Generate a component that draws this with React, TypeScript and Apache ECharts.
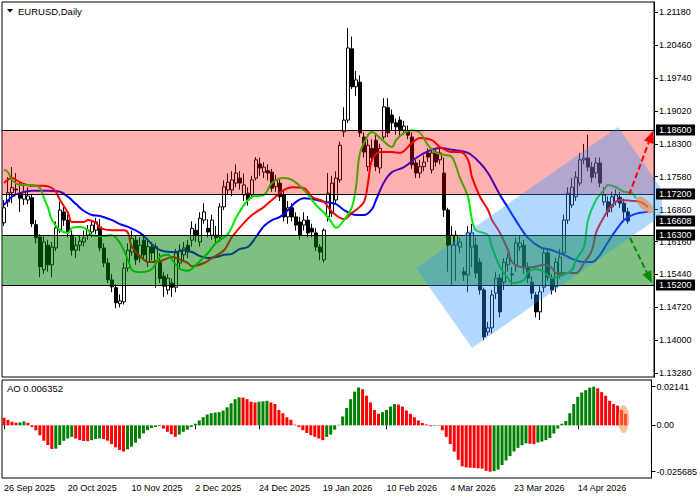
import React, { useEffect, useRef } from "react";
import * as echarts from "echarts";

// ---------- data ----------
const SLOTS = 163; // bar slots across the chart (157 bars + empty right margin)
const dateLabels = ["26 Sep 2025", "20 Oct 2025", "10 Nov 2025", "2 Dec 2025", "24 Dec 2025", "19 Jan 2026", "10 Feb 2026", "4 Mar 2026", "23 Mar 2026", "14 Apr 2026"];
const LABEL_EVERY = 16;
const priceTicks = [1.2118, 1.2046, 1.1974, 1.1902, 1.183, 1.1758, 1.1686, 1.1616, 1.1544, 1.1472, 1.14, 1.1328];
const aoTicks = [0.02141, 0, -0.025685];
const aoTickLabels = ["0.02141", "0.00", "-0.025685"];
const priceMin = 1.13194;
const priceMax = 1.21406;
const aoMin = -0.02918;
const aoMax = 0.02512;

// [open, close, low, high]
const candles = [
  [1.1657, 1.1690, 1.1650, 1.1707], [1.1703, 1.1723, 1.1692, 1.1757], [1.1723, 1.1734, 1.1700, 1.1779], [1.1731, 1.1729, 1.1718, 1.1766],
  [1.1722, 1.1711, 1.1681, 1.1744], [1.1709, 1.1725, 1.1696, 1.1740], [1.1707, 1.1716, 1.1698, 1.1735], [1.1712, 1.1655, 1.1648, 1.1720],
  [1.1653, 1.1624, 1.1612, 1.1663], [1.1626, 1.1561, 1.1538, 1.1632], [1.1554, 1.1615, 1.1545, 1.1628], [1.1608, 1.1565, 1.1550, 1.1620],
  [1.1565, 1.1604, 1.1538, 1.1615], [1.1602, 1.1646, 1.1595, 1.1660], [1.1641, 1.1685, 1.1635, 1.1703], [1.1681, 1.1663, 1.1650, 1.1695],
  [1.1663, 1.1637, 1.1625, 1.1675], [1.1630, 1.1597, 1.1585, 1.1640], [1.1597, 1.1608, 1.1580, 1.1625], [1.1608, 1.1617, 1.1595, 1.1630],
  [1.1615, 1.1624, 1.1605, 1.1640], [1.1630, 1.1641, 1.1620, 1.1652], [1.1637, 1.1652, 1.1625, 1.1660], [1.1641, 1.1659, 1.1632, 1.1668],
  [1.1648, 1.1602, 1.1595, 1.1665], [1.1602, 1.1569, 1.1560, 1.1612], [1.1569, 1.1532, 1.1525, 1.1580], [1.1532, 1.1517, 1.1505, 1.1545],
  [1.1515, 1.1482, 1.1470, 1.1522], [1.1480, 1.1486, 1.1472, 1.1500], [1.1484, 1.1558, 1.1478, 1.1570], [1.1558, 1.1597, 1.1550, 1.1612],
  [1.1593, 1.1623, 1.1585, 1.1640], [1.1619, 1.1576, 1.1565, 1.1630], [1.1580, 1.1608, 1.1570, 1.1625], [1.1619, 1.1587, 1.1575, 1.1632],
  [1.1572, 1.1605, 1.1560, 1.1618], [1.1604, 1.1591, 1.1575, 1.1615], [1.1574, 1.1605, 1.1515, 1.1612], [1.1570, 1.1535, 1.1525, 1.1590],
  [1.1540, 1.1518, 1.1495, 1.1550], [1.1510, 1.1536, 1.1500, 1.1545], [1.1525, 1.1516, 1.1495, 1.1535], [1.1516, 1.1591, 1.1505, 1.1600],
  [1.1569, 1.1597, 1.1560, 1.1610], [1.1587, 1.1602, 1.1575, 1.1615], [1.1608, 1.1593, 1.1580, 1.1620], [1.1619, 1.1645, 1.1605, 1.1660],
  [1.1641, 1.1630, 1.1615, 1.1655], [1.1615, 1.1667, 1.1605, 1.1680], [1.1663, 1.1681, 1.1655, 1.1700], [1.1645, 1.1637, 1.1625, 1.1665],
  [1.1630, 1.1663, 1.1620, 1.1675], [1.1630, 1.1624, 1.1610, 1.1650], [1.1626, 1.1692, 1.1615, 1.1700], [1.1692, 1.1736, 1.1685, 1.1750],
  [1.1729, 1.1746, 1.1720, 1.1765], [1.1729, 1.1751, 1.1715, 1.1770], [1.1744, 1.1766, 1.1735, 1.1785], [1.1755, 1.1744, 1.1730, 1.1770],
  [1.1718, 1.1740, 1.1705, 1.1765], [1.1722, 1.1707, 1.1695, 1.1735], [1.1718, 1.1751, 1.1710, 1.1760], [1.1755, 1.1795, 1.1750, 1.1801],
  [1.1786, 1.1777, 1.1760, 1.1800], [1.1768, 1.1779, 1.1755, 1.1790], [1.1771, 1.1766, 1.1750, 1.1785], [1.1768, 1.1733, 1.1725, 1.1775],
  [1.1736, 1.1751, 1.1725, 1.1762], [1.1744, 1.1714, 1.1705, 1.1755], [1.1718, 1.1670, 1.1660, 1.1730], [1.1670, 1.1690, 1.1655, 1.1705],
  [1.1690, 1.1670, 1.1660, 1.1700], [1.1670, 1.1652, 1.1640, 1.1680], [1.1659, 1.1630, 1.1620, 1.1670], [1.1652, 1.1663, 1.1640, 1.1680],
  [1.1663, 1.1635, 1.1625, 1.1672], [1.1645, 1.1637, 1.1625, 1.1655], [1.1635, 1.1604, 1.1595, 1.1645], [1.1604, 1.1593, 1.1575, 1.1610],
  [1.1576, 1.1641, 1.1570, 1.1645], [1.1670, 1.1722, 1.1660, 1.1766], [1.1678, 1.1744, 1.1670, 1.1760], [1.1707, 1.1755, 1.1700, 1.1770],
  [1.1751, 1.1827, 1.1745, 1.1835], [1.1856, 1.1882, 1.1845, 1.1910], [1.1882, 1.2040, 1.1876, 1.2084], [1.2038, 1.1955, 1.1950, 1.2065],
  [1.1955, 1.1970, 1.1935, 1.1990], [1.1965, 1.1854, 1.1845, 1.1980], [1.1845, 1.1812, 1.1800, 1.1855], [1.1780, 1.1827, 1.1770, 1.1840],
  [1.1820, 1.1800, 1.1790, 1.1840], [1.1838, 1.1780, 1.1770, 1.1850], [1.1777, 1.1820, 1.1765, 1.1830], [1.1845, 1.1911, 1.1840, 1.1930],
  [1.1909, 1.1854, 1.1845, 1.1930], [1.1893, 1.1876, 1.1860, 1.1905], [1.1876, 1.1867, 1.1850, 1.1885], [1.1882, 1.1860, 1.1845, 1.1890],
  [1.1860, 1.1869, 1.1850, 1.1880], [1.1856, 1.1849, 1.1840, 1.1870], [1.1845, 1.1784, 1.1775, 1.1855], [1.1788, 1.1766, 1.1755, 1.1795],
  [1.1766, 1.1780, 1.1755, 1.1795], [1.1780, 1.1790, 1.1770, 1.1805], [1.1810, 1.1801, 1.1790, 1.1820], [1.1773, 1.1810, 1.1765, 1.1820],
  [1.1812, 1.1790, 1.1780, 1.1820], [1.1795, 1.1810, 1.1785, 1.1822], [1.1766, 1.1685, 1.1670, 1.1800], [1.1685, 1.1608, 1.1550, 1.1690],
  [1.1608, 1.1630, 1.1520, 1.1650], [1.1608, 1.1630, 1.1530, 1.1640], [1.1604, 1.1615, 1.1590, 1.1625], [1.1550, 1.1543, 1.1530, 1.1560],
  [1.1543, 1.1635, 1.1505, 1.1650], [1.1604, 1.1635, 1.1560, 1.1655], [1.1608, 1.1547, 1.1535, 1.1625], [1.1571, 1.1510, 1.1500, 1.1580],
  [1.1510, 1.1407, 1.1400, 1.1515], [1.1418, 1.1427, 1.1410, 1.1440], [1.1427, 1.1499, 1.1415, 1.1510], [1.1503, 1.1536, 1.1490, 1.1550],
  [1.1536, 1.1462, 1.1450, 1.1545], [1.1527, 1.1571, 1.1510, 1.1580], [1.1565, 1.1580, 1.1550, 1.1590], [1.1545, 1.1543, 1.1520, 1.1560],
  [1.1565, 1.1613, 1.1550, 1.1625], [1.1604, 1.1613, 1.1595, 1.1630], [1.1608, 1.1558, 1.1545, 1.1620], [1.1560, 1.1536, 1.1525, 1.1570],
  [1.1527, 1.1503, 1.1490, 1.1540], [1.1499, 1.1462, 1.1450, 1.1505], [1.1462, 1.1506, 1.1444, 1.1520], [1.1516, 1.1591, 1.1505, 1.1600],
  [1.1591, 1.1538, 1.1530, 1.1600], [1.1536, 1.1510, 1.1500, 1.1545], [1.1517, 1.1571, 1.1505, 1.1580], [1.1543, 1.1582, 1.1535, 1.1600],
  [1.1591, 1.1663, 1.1585, 1.1675], [1.1663, 1.1722, 1.1655, 1.1735], [1.1696, 1.1735, 1.1690, 1.1755], [1.1714, 1.1757, 1.1705, 1.1770],
  [1.1744, 1.1795, 1.1738, 1.1810], [1.1795, 1.1799, 1.1785, 1.1830], [1.1799, 1.1779, 1.1770, 1.1850], [1.1779, 1.1757, 1.1745, 1.1790],
  [1.1766, 1.1788, 1.1755, 1.1800], [1.1788, 1.1744, 1.1735, 1.1800], [1.1703, 1.1718, 1.1695, 1.1735], [1.1703, 1.1681, 1.1670, 1.1715],
  [1.1692, 1.1714, 1.1680, 1.1725], [1.1703, 1.1718, 1.1695, 1.1730], [1.1713, 1.1700, 1.1690, 1.1725], [1.1700, 1.1681, 1.1665, 1.1710],
  [1.1681, 1.16608, 1.1655, 1.1690],
];

// Alligator-style lines: [barIndex, price]
const blueLine = [[0, 1.1696], [2, 1.1714], [4, 1.1722], [7, 1.1727], [11, 1.1727], [14, 1.1725], [16, 1.1714], [18, 1.1698], [20, 1.1683], [22, 1.1674], [24, 1.1672], [27, 1.1663], [29, 1.1654], [31, 1.1648], [34, 1.1635], [36, 1.1619], [38, 1.1602], [40, 1.1595], [43, 1.1593], [45, 1.1597], [47, 1.1593], [49, 1.1584], [51, 1.1580], [53, 1.1582], [55, 1.1587], [57, 1.1589], [59, 1.1600], [61, 1.1604], [63, 1.1626], [65, 1.1650], [67, 1.1663], [69, 1.1670], [71, 1.1685], [73, 1.1703], [75, 1.1711], [77, 1.1709], [80, 1.1703], [83, 1.1698], [85, 1.1685], [88, 1.1674], [90, 1.1674], [92, 1.1687], [93, 1.1707], [95, 1.1746], [97, 1.1768], [100, 1.1779], [103, 1.1799], [106, 1.1814], [109, 1.1821], [112, 1.1817], [116, 1.1810], [119, 1.1788], [121, 1.1766], [124, 1.1718], [126, 1.1690], [129, 1.1648], [131, 1.1624], [134, 1.1604], [137, 1.1597], [140, 1.1587], [142, 1.1578], [145, 1.1571], [147, 1.1571], [149, 1.1587], [151, 1.1615], [153, 1.1641], [155, 1.1663], [157, 1.1674], [159, 1.1679], [161, 1.1681]];
const redLine = [[0, 1.1744], [2, 1.1755], [4, 1.1746], [7, 1.1738], [10, 1.1738], [12, 1.1733], [13, 1.1725], [14, 1.1707], [16, 1.1679], [17, 1.1659], [20, 1.1659], [21, 1.1663], [23, 1.1657], [24, 1.1646], [27, 1.1641], [30, 1.1641], [31, 1.1635], [32, 1.1604], [35, 1.1576], [36, 1.1571], [38, 1.1571], [40, 1.1576], [42, 1.1582], [43, 1.1580], [46, 1.1569], [47, 1.1562], [50, 1.1569], [52, 1.1580], [55, 1.1597], [57, 1.1626], [60, 1.1657], [62, 1.1674], [65, 1.1692], [67, 1.1707], [70, 1.1729], [72, 1.1735], [75, 1.1733], [77, 1.1714], [80, 1.1703], [82, 1.1681], [85, 1.1665], [87, 1.1679], [88, 1.1685], [90, 1.1703], [91, 1.1744], [92, 1.1795], [94, 1.1812], [97, 1.1812], [99, 1.1810], [102, 1.1832], [104, 1.1843], [107, 1.1838], [109, 1.1823], [112, 1.1812], [114, 1.1812], [116, 1.1795], [117, 1.1757], [119, 1.1714], [121, 1.1685], [122, 1.1663], [124, 1.1635], [126, 1.1597], [127, 1.1571], [130, 1.1560], [132, 1.1560], [135, 1.1565], [137, 1.1558], [138, 1.1547], [141, 1.1547], [143, 1.1547], [145, 1.1569], [147, 1.1597], [148, 1.1635], [150, 1.1670], [152, 1.1696], [154, 1.1707], [157, 1.1705], [159, 1.1703], [161, 1.1692]];
const greenLine = [[0, 1.1773], [1, 1.1768], [2, 1.1751], [4, 1.1740], [7, 1.1740], [9, 1.1733], [10, 1.1711], [11, 1.1690], [12, 1.1663], [14, 1.1641], [16, 1.1635], [17, 1.1646], [19, 1.1648], [21, 1.1641], [22, 1.1630], [25, 1.1628], [27, 1.1630], [29, 1.1613], [31, 1.1576], [32, 1.1554], [34, 1.1549], [37, 1.1556], [39, 1.1582], [41, 1.1587], [42, 1.1576], [44, 1.1556], [46, 1.1552], [48, 1.1565], [51, 1.1591], [53, 1.1613], [56, 1.1633], [58, 1.1668], [60, 1.1696], [62, 1.1714], [65, 1.1718], [67, 1.1744], [70, 1.1755], [72, 1.1751], [75, 1.1729], [77, 1.1707], [78, 1.1696], [80, 1.1679], [82, 1.1657], [83, 1.1646], [85, 1.1663], [87, 1.1692], [88, 1.1735], [89, 1.1810], [91, 1.1849], [92, 1.1856], [94, 1.1843], [97, 1.1823], [98, 1.1838], [100, 1.1854], [102, 1.1860], [104, 1.1854], [106, 1.1827], [108, 1.1810], [110, 1.1806], [112, 1.1801], [114, 1.1755], [116, 1.1714], [117, 1.1663], [118, 1.1641], [121, 1.1630], [122, 1.1604], [124, 1.1560], [126, 1.1536], [127, 1.1525], [130, 1.1532], [131, 1.1549], [133, 1.1556], [135, 1.1549], [137, 1.1536], [138, 1.1538], [140, 1.1543], [142, 1.1554], [143, 1.1576], [145, 1.1604], [146, 1.1663], [148, 1.1707], [150, 1.1729], [151, 1.1740], [153, 1.1735], [155, 1.1725], [157, 1.1722], [158, 1.1711]];

// Awesome Oscillator
const ao = [
  0.0042, 0.0030, 0.0020, 0.0014, 0.0016, 0.0022, 0.0014, -0.0009, -0.0027, -0.0055, -0.0085, -0.0109, -0.0131, -0.0129, -0.0109, -0.0085,
  -0.0073, -0.0064, -0.0073, -0.0082, -0.0087, -0.0088, -0.0082, -0.0076, -0.0073, -0.0076, -0.0085, -0.0104, -0.0122, -0.0136, -0.0145, -0.0133,
  -0.0118, -0.0096, -0.0073, -0.0045, -0.0027, -0.0015, -0.0009, -0.0004, -0.0018, -0.0036, -0.0049, -0.0064, -0.0051, -0.0036, -0.0024, -0.0009,
  0.0009, 0.0027, 0.0045, 0.0060, 0.0067, 0.0071, 0.0073, 0.0082, 0.0100, 0.0122, 0.0145, 0.0155, 0.0154, 0.0145, 0.0131, 0.0127,
  0.0131, 0.0133, 0.0136, 0.0127, 0.0118, 0.0085, 0.0067, 0.0045, 0.0031, 0.0004, -0.0009, -0.0027, -0.0042, -0.0055, -0.0064, -0.0073,
  -0.0082, -0.0064, -0.0051, -0.0024, 0.0003, 0.0049, 0.0096, 0.0145, 0.0187, 0.0210, 0.0200, 0.0164, 0.0127, 0.0085, 0.0064, 0.0073,
  0.0085, 0.0104, 0.0118, 0.0115, 0.0104, 0.0082, 0.0064, 0.0045, 0.0027, 0.0013, 0.0005, -0.0005, -0.0003, -0.0002, -0.0027, -0.0064,
  -0.0104, -0.0145, -0.0191, -0.0227, -0.0233, -0.0235, -0.0236, -0.0238, -0.0240, -0.0252, -0.025685, -0.0254, -0.0245, -0.0220, -0.0195, -0.0170,
  -0.0145, -0.0125, -0.0110, -0.0100, -0.0102, -0.0104, -0.0095, -0.0090, -0.0082, -0.0070, -0.0045, -0.0018, 0.0009, 0.0024, 0.0067, 0.0118,
  0.0158, 0.0182, 0.0195, 0.0209, 0.02141, 0.0205, 0.0184, 0.0164, 0.0136, 0.0118, 0.0109, 0.0085, 0.006352,
];

// annotations (data space: [barIndex, price])
const bandLevels = [[1.186, 1.172], [1.163, 1.152]];
const channelCorners = [[103, 1.1558], [117, 1.1383], [167.5, 1.1692], [153.5, 1.1867]];
const arrowUp = [156.25, 1.1718, 162.25, 1.1858];
const arrowDown = [156.5, 1.1624, 162, 1.1525];
const highlightCenter = [160.25, 1.1696];
const aoHighlightCenter = [155.5, 0.0035];
const priceBoxes = [1.186, 1.172, 1.16608, 1.163, 1.152];
const priceBoxLabels = ["1.18600", "1.17200", "1.16608", "1.16300", "1.15200"];

// ---------- styles ----------
const FONT = "Liberation Sans, Arial, sans-serif";
const bandColors = ["rgba(255,0,0,0.31)", "rgba(0,128,0,0.5)"];
const channelColor = "rgba(40,150,255,0.36)";

function toPx(api: any, idx: number, v: number): number[] {
  const p = api.coord([0, v]);
  const bw = api.size([1, 0])[0];
  return [p[0] + idx * bw, p[1]];
}

function clipRight(pts: number[][], xmax: number): number[][] {
  const out: number[][] = [];
  for (let i = 0; i < pts.length; i++) {
    const a = pts[i];
    const b = pts[(i + 1) % pts.length];
    const ain = a[0] <= xmax;
    const bin = b[0] <= xmax;
    if (ain) out.push(a);
    if (ain !== bin) {
      const t = (xmax - a[0]) / (b[0] - a[0]);
      out.push([xmax, a[1] + t * (b[1] - a[1])]);
    }
  }
  return out;
}

function arrowGroup(api: any, a: number[], color: string) {
  const p1 = toPx(api, a[0], a[1]);
  const p2 = toPx(api, a[2], a[3]);
  const dx = p2[0] - p1[0];
  const dy = p2[1] - p1[1];
  const len = Math.hypot(dx, dy) || 1;
  const ux = dx / len;
  const uy = dy / len;
  const headL = 12;
  const headW = 5;
  const base = [p2[0] - ux * headL, p2[1] - uy * headL];
  const l = [base[0] - uy * headW, base[1] + ux * headW];
  const r = [base[0] + uy * headW, base[1] - ux * headW];
  return {
    type: "group",
    children: [
      { type: "line", shape: { x1: p1[0], y1: p1[1], x2: base[0], y2: base[1] }, style: { stroke: color, lineWidth: 2, lineDash: [6, 3] } },
      { type: "polygon", shape: { points: [p2, l, r] }, style: { fill: color } },
    ],
  };
}

export default function App() {
  const ref = useRef<HTMLDivElement>(null);

  useEffect(() => {
    if (!ref.current) return;
    const chart = echarts.init(ref.current, undefined, { renderer: "svg" });
    const cats = Array.from({ length: SLOTS }, (_, i) => String(i));
    const showLabel = (i: number) => i % LABEL_EVERY === 0 && i / LABEL_EVERY < dateLabels.length;

    const lineSeries = (data: number[][], color: string) => ({
      type: "line",
      xAxisIndex: 0,
      yAxisIndex: 0,
      data,
      smooth: 0.35,
      showSymbol: false,
      symbol: "none",
      z: 3,
      lineStyle: { color, width: 2 },
      silent: true,
    });

    const option: any = {
      animation: false,
      backgroundColor: "#fff",
      grid: [
        { left: 2, top: 2, width: 652, height: 375, show: true, borderColor: "#000", borderWidth: 1, backgroundColor: "transparent" },
        { left: 2, top: 380, width: 652, height: 98, show: true, borderColor: "#000", borderWidth: 1, backgroundColor: "transparent" },
      ],
      xAxis: [
        { type: "category", gridIndex: 0, data: cats, boundaryGap: true, axisLine: { show: false }, axisTick: { show: false }, axisLabel: { show: false }, splitLine: { show: false } },
        {
          type: "category", gridIndex: 1, data: cats, boundaryGap: true,
          axisLine: { show: false },
          axisTick: { show: true, length: 4, alignWithLabel: true, interval: (i: number) => showLabel(i), lineStyle: { color: "#000" } },
          axisLabel: {
            show: true, interval: (i: number) => showLabel(i), align: "left", margin: 5,
            color: "#000", fontSize: 9, fontFamily: FONT,
            formatter: (_v: string, i: number) => dateLabels[Math.round(i / LABEL_EVERY)] || "",
          },
          splitLine: { show: false },
        },
      ],
      yAxis: [
        {
          type: "value", gridIndex: 0, position: "right", min: priceMin, max: priceMax, scale: true,
          axisLine: { show: true, lineStyle: { color: "#000" } },
          axisTick: { show: true, length: 4, customValues: priceTicks, lineStyle: { color: "#000" } },
          axisLabel: { show: true, customValues: priceTicks, margin: 5, color: "#000", fontSize: 9, fontFamily: FONT, formatter: (v: number) => v.toFixed(5) },
          splitLine: { show: false },
        },
        {
          type: "value", gridIndex: 1, position: "right", min: aoMin, max: aoMax,
          axisLine: { show: true, lineStyle: { color: "#000" } },
          axisTick: { show: true, length: 4, customValues: aoTicks, lineStyle: { color: "#000" } },
          axisLabel: {
            show: true, customValues: aoTicks, margin: 5, color: "#000", fontSize: 9, fontFamily: FONT,
            formatter: (v: number) => {
              const k = aoTicks.findIndex((t) => Math.abs(t - v) < 1e-7);
              return k >= 0 ? aoTickLabels[k] : "";
            },
          },
          splitLine: { show: false },
        },
      ],
      series: [
        {
          type: "candlestick",
          xAxisIndex: 0,
          yAxisIndex: 0,
          data: candles,
          barWidth: 3,
          z: 2,
          silent: true,
          itemStyle: { color: "#fff", color0: "#000", borderColor: "#000", borderColor0: "#000", borderWidth: 1 },
        },
        lineSeries(blueLine, "#0000ff"),
        lineSeries(redLine, "#ff0000"),
        lineSeries(greenLine, "#00e600"),
        {
          type: "custom",
          xAxisIndex: 0,
          yAxisIndex: 0,
          z: 4,
          silent: true,
          data: bandLevels.map((b) => [0, b[0]]),
          renderItem: (params: any, api: any) => {
            const [hi, lo] = bandLevels[params.dataIndex];
            const cs = params.coordSys;
            const y1 = Math.round(api.coord([0, hi])[1]) + 0.5;
            const y2 = Math.round(api.coord([0, lo])[1]) + 0.5;
            return {
              type: "group",
              children: [
                { type: "rect", shape: { x: cs.x, y: y1, width: cs.width, height: y2 - y1 }, style: { fill: bandColors[params.dataIndex] } },
                { type: "line", shape: { x1: cs.x, y1, x2: cs.x + cs.width, y2: y1 }, style: { stroke: "#000", lineWidth: 1 } },
                { type: "line", shape: { x1: cs.x, y1: y2, x2: cs.x + cs.width, y2 }, style: { stroke: "#000", lineWidth: 1 } },
              ],
            };
          },
        },
        {
          type: "custom",
          xAxisIndex: 0,
          yAxisIndex: 0,
          z: 5,
          silent: true,
          clip: false,
          data: [[0, channelCorners[0][1]]],
          renderItem: (params: any, api: any) => {
            const cs = params.coordSys;
            const pts = channelCorners.map((c) => toPx(api, c[0], c[1]));
            return { type: "polygon", shape: { points: clipRight(pts, cs.x + cs.width + 8) }, style: { fill: channelColor } };
          },
        },
        {
          type: "custom",
          xAxisIndex: 0,
          yAxisIndex: 0,
          z: 6,
          silent: true,
          clip: false,
          data: [[0, highlightCenter[1]]],
          renderItem: (_params: any, api: any) => {
            const c = toPx(api, highlightCenter[0], highlightCenter[1]);
            return {
              type: "group",
              children: [
                { type: "ellipse", x: c[0], y: c[1], rotation: -Math.PI / 4, shape: { cx: 0, cy: 0, rx: 11, ry: 5 }, style: { fill: "rgba(240,130,60,0.6)" } },
                arrowGroup(api, arrowUp, "#ff0000"),
                arrowGroup(api, arrowDown, "#0a8a0a"),
              ],
            };
          },
        },
        {
          type: "custom",
          xAxisIndex: 0,
          yAxisIndex: 0,
          z: 10,
          silent: true,
          clip: false,
          data: priceBoxes.map((p) => [0, p]),
          renderItem: (params: any, api: any) => {
            const cs = params.coordSys;
            const y = Math.round(api.coord([0, priceBoxes[params.dataIndex]])[1]);
            const x0 = cs.x + cs.width + 2;
            return {
              type: "group",
              children: [
                { type: "rect", shape: { x: x0, y: y - 5.5, width: 39, height: 11 }, style: { fill: "#000" } },
                {
                  type: "text",
                  style: { text: priceBoxLabels[params.dataIndex], x: x0 + 3, y: y, fill: "#fff", fontSize: 9, fontFamily: FONT, align: "left", verticalAlign: "middle" },
                },
              ],
            };
          },
        },
        {
          type: "bar",
          xAxisIndex: 1,
          yAxisIndex: 1,
          barWidth: 3,
          z: 2,
          silent: true,
          data: ao.map((v, i) => ({ value: v, itemStyle: { color: i > 0 && v > ao[i - 1] ? "#008000" : "#ff0000" } })),
        },
        {
          type: "custom",
          xAxisIndex: 1,
          yAxisIndex: 1,
          z: 6,
          silent: true,
          clip: false,
          data: [[0, aoHighlightCenter[1]]],
          renderItem: (_params: any, api: any) => {
            const c = toPx(api, aoHighlightCenter[0], aoHighlightCenter[1]);
            return { type: "ellipse", x: c[0], y: c[1], shape: { cx: 0, cy: 0, rx: 5.5, ry: 14 }, style: { fill: "rgba(245,140,80,0.55)" } };
          },
        },
      ],
      graphic: [
        { type: "polygon", shape: { points: [[7, 9], [13, 9], [10, 12.5]] }, style: { fill: "#000" }, silent: true },
        {
          type: "text", x: 18, y: 11, silent: true,
          style: { text: "EURUSD,Daily", fill: "#000", fontSize: 9.5, fontFamily: FONT, textVerticalAlign: "middle", verticalAlign: "middle" },
        },
        {
          type: "text", x: 7, y: 388, silent: true,
          style: { text: "AO " + ao[ao.length - 1].toFixed(6), fill: "#000", fontSize: 9.5, fontFamily: FONT, textVerticalAlign: "middle", verticalAlign: "middle" },
        },
      ],
    };

    chart.setOption(option);
    return () => chart.dispose();
  }, []);

  return <div ref={ref} style={{ position: "absolute", left: 0, top: 0, width: 700, height: 500, background: "#fff" }} />;
}
